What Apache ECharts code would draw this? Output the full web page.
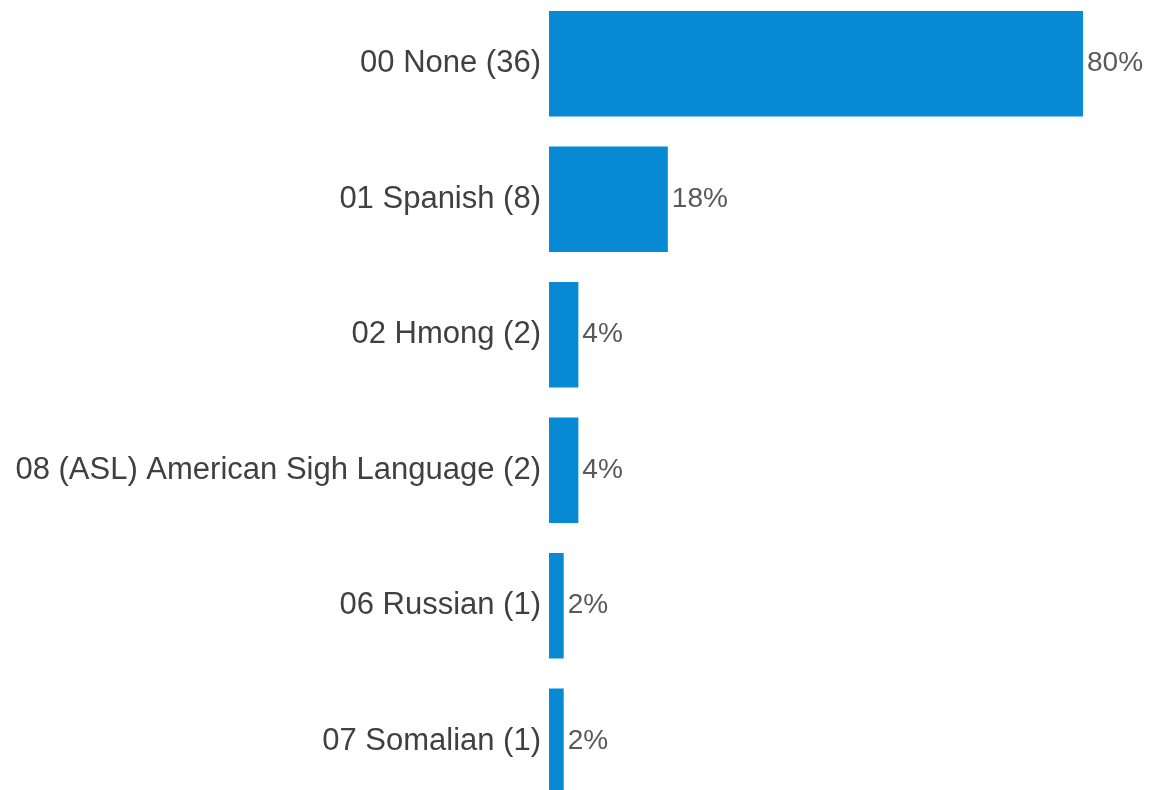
<!DOCTYPE html>
<html>
<head>
<meta charset="utf-8">
<script src="https://cdn.jsdelivr.net/npm/echarts@6/dist/echarts.min.js"></script>
<style>
html,body{margin:0;padding:0;background:#fff;}
#chart{width:1150px;height:790px;}
</style>
</head>
<body>
<div id="chart"></div>
<script>
const categories = [
  "00 None (36)",
  "01 Spanish (8)",
  "02 Hmong (2)",
  "08 (ASL) American Sigh Language (2)",
  "06 Russian (1)",
  "07 Somalian (1)"
];
const percentValues = [80, 17.8, 4.4, 4.4, 2.2, 2.2];

const chart = echarts.init(document.getElementById('chart'), null, {renderer: 'canvas'});
chart.setOption({
  animation: false,
  backgroundColor: '#ffffff',
  grid: {left: 549, right: 67, top: -4, height: 813, containLabel: false, outerBoundsMode: 'none'},
  xAxis: {
    type: 'value', min: 0, max: 80, show: false
  },
  yAxis: {
    type: 'category',
    data: categories,
    inverse: true,
    axisLine: {show: false},
    axisTick: {show: false},
    splitLine: {show: false},
    axisLabel: {
      margin: 8,
      color: '#404040',
      fontSize: 31,
      fontFamily: 'Liberation Sans, Arial, sans-serif'
    }
  },
  series: [{
    type: 'bar',
    data: percentValues,
    barCategoryGap: '22%',
    itemStyle: {color: '#0789d4'},
    label: {
      show: true,
      position: 'right',
      distance: 4,
      color: '#595959',
      fontSize: 28,
      fontFamily: 'Liberation Sans, Arial, sans-serif',
      formatter: p => Math.round(p.value) + '%'
    }
  }]
});
</script>
</body>
</html>
